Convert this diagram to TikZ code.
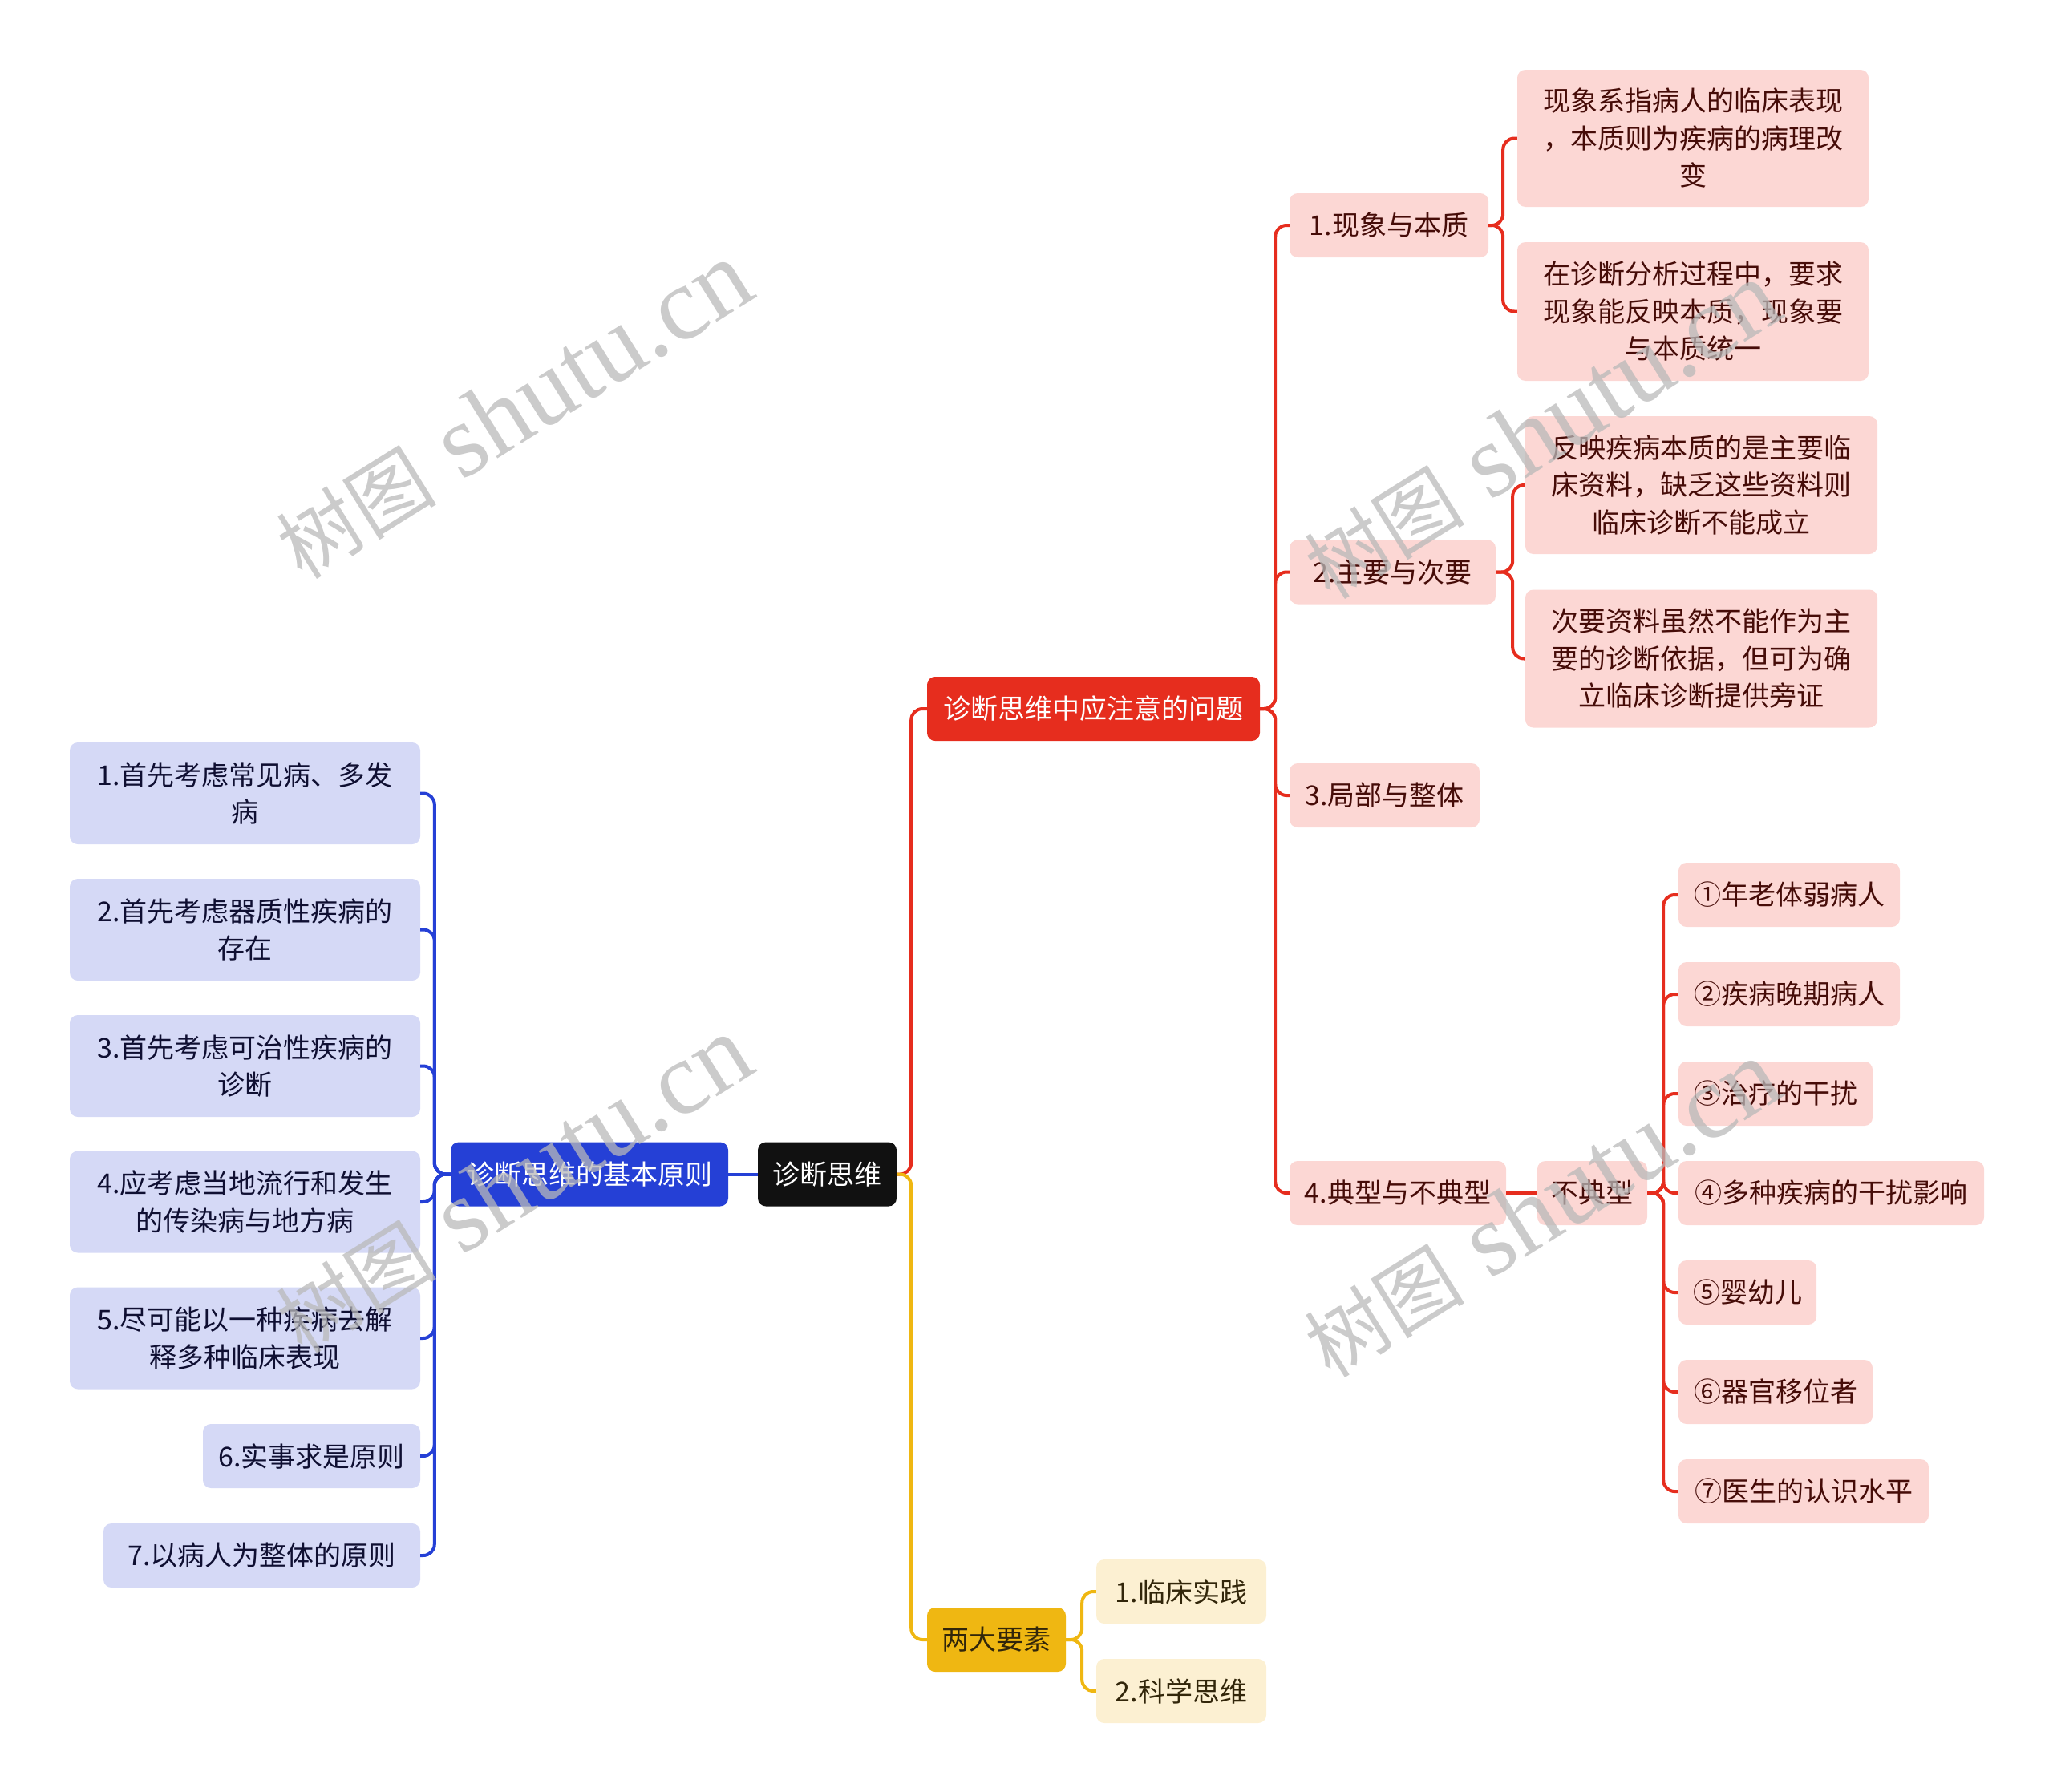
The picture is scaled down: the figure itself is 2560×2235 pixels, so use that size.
\documentclass[tikz,border=0pt]{standalone}
\usepackage{fontspec}
\newfontfamily\cjk{Noto Sans CJK SC}
\newfontfamily\wmserif{Liberation Serif}
\definecolor{rootc}{RGB}{17,17,17}
\definecolor{bluec}{RGB}{37,64,214}
\definecolor{bluelt}{RGB}{213,217,246}
\definecolor{bluetx}{RGB}{15,15,50}
\definecolor{redc}{RGB}{230,45,30}
\definecolor{redlt}{RGB}{252,215,212}
\definecolor{redtx}{RGB}{70,12,8}
\definecolor{yelc}{RGB}{239,183,18}
\definecolor{yellt}{RGB}{252,240,210}
\definecolor{yeltx}{RGB}{50,38,10}
\definecolor{wmc}{RGB}{185,185,185}
\newcommand{\wmtext}{{\fontsize{100}{100}\selectfont\cjk 树图}\,{\fontsize{130}{130}\selectfont\wmserif\ shutu.cn}}
\begin{document}
\begin{tikzpicture}[x=1pt,y=-1pt,
  box/.style={rounded corners=10pt, inner sep=0pt, align=center,
    font=\cjk\fontsize{34}{46.5}\selectfont, minimum height=80pt},
  rootst/.style={box, fill=rootc, text=white},
  bmainst/.style={box, fill=bluec, text=white},
  rmainst/.style={box, fill=redc, text=white},
  ymainst/.style={box, fill=yelc, text=yeltx},
  bchild/.style={box, fill=bluelt, text=bluetx},
  rchild/.style={box, fill=redlt, text=redtx},
  ychild/.style={box, fill=yellt, text=yeltx},
  conn/.style={line width=4pt, rounded corners=14pt},
  bline/.style={conn, draw=bluec},
  rline/.style={conn, draw=redc},
  yline/.style={conn, draw=yelc},
  wmark/.style={rotate=32, text=wmc, text opacity=0.75, inner sep=0pt}
]
\useasboundingbox (0,0) rectangle (2560,2235);

% main nodes
\node[rootst, minimum width=173pt] (root) at (1031.5,1464.5) {诊断思维};
\node[bmainst, minimum width=346pt] (bm) at (735,1464.5) {诊断思维的基本原则};
\node[rmainst, minimum width=415pt] (rm) at (1363.5,884) {诊断思维中应注意的问题};
\node[ymainst, minimum width=173pt] (ym) at (1242.5,2045) {两大要素};

% blue children
\node[bchild, minimum width=437pt, minimum height=127pt] (b1) at (305.5,989.5) {1.首先考虑常见病、多发\\病};
\node[bchild, minimum width=437pt, minimum height=127pt] (b2) at (305.5,1159.5) {2.首先考虑器质性疾病的\\存在};
\node[bchild, minimum width=437pt, minimum height=127pt] (b3) at (305.5,1329.5) {3.首先考虑可治性疾病的\\诊断};
\node[bchild, minimum width=437pt, minimum height=127pt] (b4) at (305.5,1499) {4.应考虑当地流行和发生\\的传染病与地方病};
\node[bchild, minimum width=437pt, minimum height=127pt] (b5) at (305.5,1669) {5.尽可能以一种疾病去解\\释多种临床表现};
\node[bchild, minimum width=271pt] (b6) at (388.5,1816) {6.实事求是原则};
\node[bchild, minimum width=395pt] (b7) at (326.5,1940) {7.以病人为整体的原则};

% red children
\node[rchild, minimum width=248pt] (r1) at (1732,281) {1.现象与本质};
\node[rchild, minimum width=438pt, minimum height=171pt] (r1a) at (2111,172.5) {现象系指病人的临床表现\\，本质则为疾病的病理改\\变};
\node[rchild, minimum width=438pt, minimum height=173pt] (r1b) at (2111,388.5) {在诊断分析过程中，要求\\现象能反映本质，现象要\\与本质统一};
\node[rchild, minimum width=257pt] (r2) at (1736.5,713.5) {2.主要与次要};
\node[rchild, minimum width=439pt, minimum height=172pt] (r2a) at (2121.5,605) {反映疾病本质的是主要临\\床资料，缺乏这些资料则\\临床诊断不能成立};
\node[rchild, minimum width=439pt, minimum height=172pt] (r2b) at (2121.5,821.5) {次要资料虽然不能作为主\\要的诊断依据，但可为确\\立临床诊断提供旁证};
\node[rchild, minimum width=237pt] (r3) at (1726.5,992) {3.局部与整体};
\node[rchild, minimum width=270pt] (r4) at (1743,1488) {4.典型与不典型};
\node[rchild, minimum width=137pt] (r4x) at (1985.5,1488) {不典型};
\node[rchild, minimum width=276pt] (c1) at (2231,1116) {①年老体弱病人};
\node[rchild, minimum width=276pt] (c2) at (2231,1240) {②疾病晚期病人};
\node[rchild, minimum width=242pt] (c3) at (2214,1364) {③治疗的干扰};
\node[rchild, minimum width=381pt] (c4) at (2283.5,1488) {④多种疾病的干扰影响};
\node[rchild, minimum width=172pt] (c5) at (2179,1612) {⑤婴幼儿};
\node[rchild, minimum width=242pt] (c6) at (2214,1736) {⑥器官移位者};
\node[rchild, minimum width=312pt] (c7) at (2249,1860) {⑦医生的认识水平};

% yellow children
\node[ychild, minimum width=212pt] (y1) at (1473,1985) {1.临床实践};
\node[ychild, minimum width=212pt] (y2) at (1473,2109) {2.科学思维};

% connectors
\draw[rline] (root.east) -- ++(18,0) |- (rm.west);
\draw[yline] (root.east) -- ++(18,0) |- (ym.west);
\draw[bline] (root.west) -- (bm.east);
\foreach \n in {b1,b2,b3,b4,b5,b6,b7}
  \draw[bline] (bm.west) -- ++(-20,0) |- (\n.east);
\foreach \n in {r1,r2,r3,r4}
  \draw[rline] (rm.east) -- ++(19,0) |- (\n.west);
\foreach \n in {r1a,r1b}
  \draw[rline] (r1.east) -- ++(18,0) |- (\n.west);
\foreach \n in {r2a,r2b}
  \draw[rline] (r2.east) -- ++(21,0) |- (\n.west);
\draw[rline] (r4.east) -- (r4x.west);
\foreach \n in {c1,c2,c3,c4,c5,c6,c7}
  \draw[rline] (r4x.east) -- ++(20,0) |- (\n.west);
\foreach \n in {y1,y2}
  \draw[yline] (ym.east) -- ++(20,0) |- (\n.west);

% watermarks
\node[wmark] (wm1) at (640,512) {\wmtext};
\node[wmark] (wm2) at (640,1478) {\wmtext};
\node[wmark] (wm3) at (1922,537) {\wmtext};
\node[wmark] (wm4) at (1922,1508) {\wmtext};
\end{tikzpicture}
\end{document}
